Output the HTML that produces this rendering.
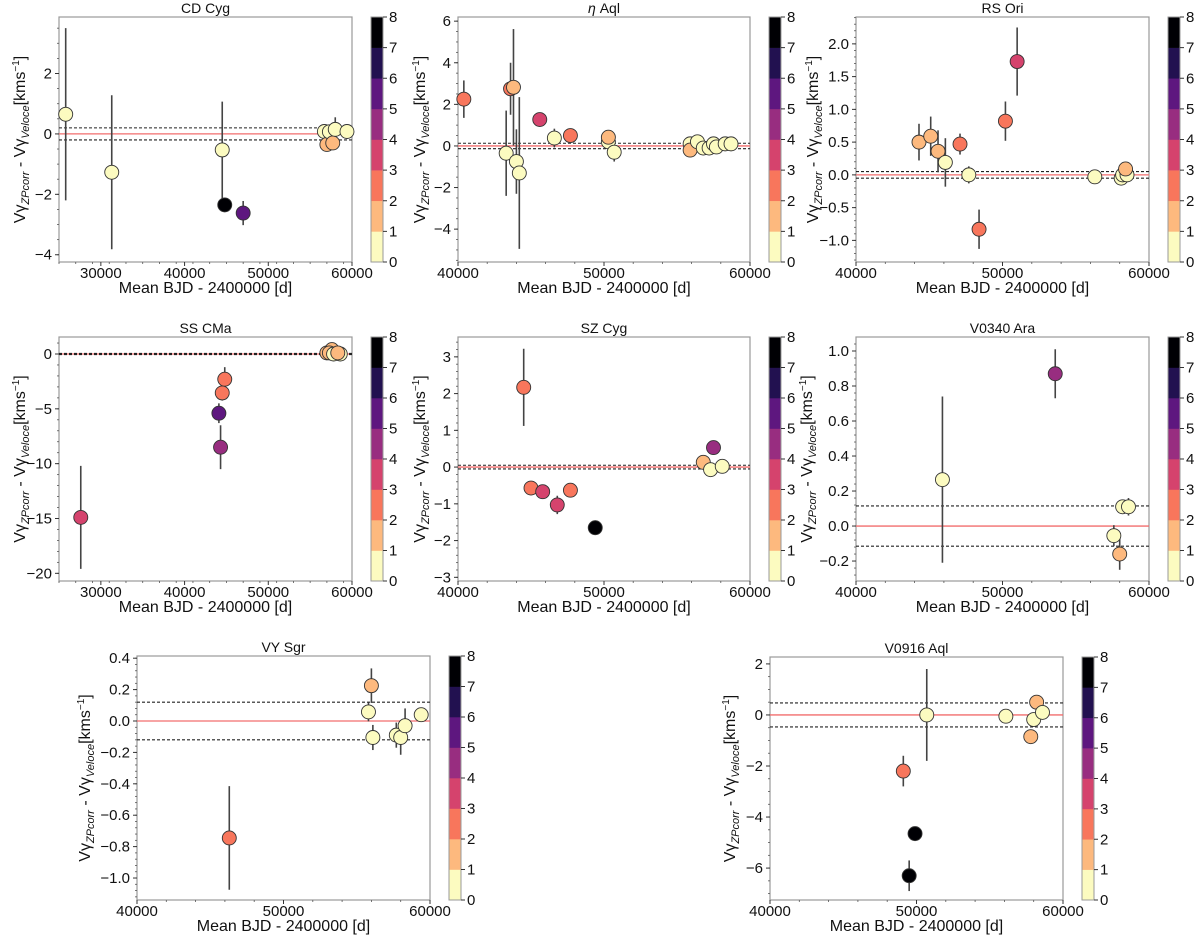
<!DOCTYPE html>
<html><head><meta charset="utf-8">
<style>
html,body{margin:0;padding:0;background:#fff;}
svg{display:block;font-family:"Liberation Sans","DejaVu Sans",sans-serif;}
</style></head>
<body>
<svg id="fig" width="1200" height="935" viewBox="0 0 1200 935" xmlns="http://www.w3.org/2000/svg"></svg>
<script>
// ---- data (x = Mean BJD - 2400000, y = difference, e = error, c = colour class) ----
const cdCygX=[25800,31300,44500,44800,47000,56700,57000,57300,57700,58000,59400];
const cdCygY=[0.65,-1.27,-0.53,-2.35,-2.62,0.08,-0.35,0.07,-0.3,0.15,0.08];
const cdCygE=[2.85,2.55,1.6,0.2,0.4,0.1,0.2,0.1,0.1,0.4,0.1];
const cdCygC=[0,0,0,7,5,0,1,0,1,0,0];

const etaAqlX=[40400,43300,43600,43800,44000,44200,45600,46600,47700,50300,50300,50700,55900,55900,56400,56800,57200,57500,57700,58300,58700];
const etaAqlY=[2.25,-0.35,2.75,2.82,-0.75,-1.3,1.27,0.38,0.5,0.2,0.42,-0.3,0.1,-0.2,0.2,-0.1,-0.1,0.1,-0.05,0.1,0.1];
const etaAqlE=[0.9,2.05,1.25,2.8,1.55,3.65,0.25,0.45,0.15,0.4,0.3,0.45,0.1,0.1,0.1,0.1,0.1,0.1,0.1,0.1,0.1];
const etaAqlC=[2,0,2,1,0,0,3,0,2,0,1,0,0,1,0,0,0,0,0,0,0];

const rsOriX=[44300,45100,45600,46100,47100,47700,48400,50200,51000,56300,58100,58200,58500,58400];
const rsOriY=[0.5,0.59,0.36,0.19,0.47,0.0,-0.83,0.82,1.73,-0.03,-0.05,0.0,0.0,0.09];
const rsOriE=[0.28,0.3,0.32,0.37,0.16,0.13,0.3,0.3,0.52,0.05,0.05,0.05,0.05,0.05];
const rsOriC=[1,1,1,0,2,0,2,2,3,0,0,0,0,1];

const ssCmaX=[27600,44100,44300,44500,44800,57000,57600,57300,57800,58600,58300];
const ssCmaY=[-14.9,-5.4,-8.5,-3.55,-2.3,0.1,0.4,0.1,0.0,0.0,0.1];
const ssCmaE=[4.7,0.9,2.0,0.7,1.1,0.2,0.2,0.2,0.2,0.2,0.1];
const ssCmaC=[3,5,4,2,2,1,1,1,0,0,1];

const szCygX=[44500,45000,45800,46800,47700,49400,56800,57300,57500,58100];
const szCygY=[2.17,-0.57,-0.67,-1.03,-0.63,-1.65,0.13,-0.07,0.53,0.02];
const szCygE=[1.05,0.15,0.18,0.25,0.18,0.2,0.1,0.1,0.1,0.1];
const szCygC=[2,2,3,3,2,7,1,0,4,0];

const v340X=[45900,53600,57600,58000,58200,58600];
const v340Y=[0.265,0.87,-0.055,-0.16,0.11,0.11];
const v340E=[0.475,0.14,0.06,0.09,0.04,0.05];
const v340C=[0,4,0,1,0,0];

const vySgrX=[46300,55800,56000,56100,57700,58000,58300,59400];
const vySgrY=[-0.745,0.058,0.225,-0.105,-0.09,-0.105,-0.03,0.04];
const vySgrE=[0.33,0.06,0.11,0.08,0.08,0.11,0.11,0.03];
const vySgrC=[2,0,1,0,0,0,0,0];

const v916X=[49100,49900,49500,50700,56100,57800,58000,58200,58600];
const v916Y=[-2.2,-4.65,-6.3,0.0,-0.05,-0.85,-0.18,0.5,0.1];
const v916E=[0.6,0.25,0.6,1.8,0.1,0.1,0.1,0.1,0.1];
const v916C=[2,7,7,0,0,1,0,1,0];

const colorbarTicks=[0,1,2,3,4,5,6,7,8];
const ticks1=[-4,-2,0,2];
const ticks2=[-4,-2,0,2,4,6];
const ticks3=[-1.0,-0.5,0.0,0.5,1.0,1.5,2.0];
const ticks4=[-20,-15,-10,-5,0];
const ticks5=[-3,-2,-1,0,1,2,3];
const ticks6=[-0.2,0.0,0.2,0.4,0.6,0.8,1.0];
const ticks7=[-1.0,-0.8,-0.6,-0.4,-0.2,0.0,0.2,0.4];
const ticks8=[-6,-4,-2,0,2];
const xTicksA=[30000,40000,50000,60000];
const xTicksB=[40000,50000,60000];

const palette=["#fcfbc0","#fdb97e","#f8765c","#d5436d","#982d80","#5e177f","#221150","#000004"];

// ---- layout ----
const panels=[
 {name:"cd-cyg",title:"CD Cyg",L:59,T:17,W:293,H:245,x0:25000,x1:60000,y0:-4.24,y1:3.87,xt:xTicksA,yt:ticks1,dec:0,band:0.2,X:cdCygX,Y:cdCygY,E:cdCygE,C:cdCygC,ylx:25,minY:0.5},
 {name:"eta-aql",title:"η Aql",L:458,T:17,W:292,H:245,x0:40000,x1:60000,y0:-5.58,y1:6.2,xt:xTicksB,yt:ticks2,dec:0,band:0.13,X:etaAqlX,Y:etaAqlY,E:etaAqlE,C:etaAqlC,ylx:425,minY:0.5,italicTitle:true},
 {name:"rs-ori",title:"RS Ori",L:856,T:17,W:293,H:245,x0:40000,x1:60000,y0:-1.33,y1:2.41,xt:xTicksB,yt:ticks3,dec:1,band:0.05,X:rsOriX,Y:rsOriY,E:rsOriE,C:rsOriC,ylx:818,minY:0.1},
 {name:"ss-cma",title:"SS CMa",L:59,T:337,W:293,H:244,x0:25000,x1:60000,y0:-20.7,y1:1.55,xt:xTicksA,yt:ticks4,dec:0,band:0.05,X:ssCmaX,Y:ssCmaY,E:ssCmaE,C:ssCmaC,ylx:25,minY:1},
 {name:"sz-cyg",title:"SZ Cyg",L:458,T:337,W:292,H:244,x0:40000,x1:60000,y0:-3.1,y1:3.54,xt:xTicksB,yt:ticks5,dec:0,band:0.05,X:szCygX,Y:szCygY,E:szCygE,C:szCygC,ylx:425,minY:0.2},
 {name:"v0340-ara",title:"V0340 Ara",L:856,T:337,W:293,H:244,x0:40000,x1:60000,y0:-0.314,y1:1.08,xt:xTicksB,yt:ticks6,dec:1,band:0.115,X:v340X,Y:v340Y,E:v340E,C:v340C,ylx:812,minY:0.04},
 {name:"vy-sgr",title:"VY Sgr",L:137,T:656,W:293,H:244,x0:40000,x1:60000,y0:-1.14,y1:0.414,xt:xTicksB,yt:ticks7,dec:1,band:0.12,X:vySgrX,Y:vySgrY,E:vySgrE,C:vySgrC,ylx:90,minY:0.04},
 {name:"v0916-aql",title:"V0916 Aql",L:770,T:657,W:293,H:243,x0:40000,x1:60000,y0:-7.25,y1:2.27,xt:xTicksB,yt:ticks8,dec:0,band:0.47,X:v916X,Y:v916Y,E:v916E,C:v916C,ylx:735,minY:0.5}
];

const NS="http://www.w3.org/2000/svg";
const svg=document.getElementById("fig");
function mk(tag,attrs,parent){const e=document.createElementNS(NS,tag);for(const k in attrs)e.setAttribute(k,attrs[k]);(parent||svg).appendChild(e);return e;}
function fmt(v,d){let s=v.toFixed(d);if(Math.abs(v)<1e-9)s=(0).toFixed(d);return s.replace("-","−");}

panels.forEach(p=>{
  const g=mk("g",{});
  
  
  const sx=v=>p.L+(v-p.x0)/(p.x1-p.x0)*p.W;
  const sy=v=>p.T+(p.y1-v)/(p.y1-p.y0)*p.H;
  const fr=mk("rect",{x:p.L,y:p.T,width:p.W,height:p.H,fill:"#fff",stroke:"#999",'stroke-width':1.2},g);
  
  
  const t=mk("text",{x:p.L+p.W/2,y:p.T-4,'text-anchor':'middle','font-size':14,fill:'#111'},g);
  
  
  if(p.italicTitle){t.innerHTML='<tspan font-style="italic">η</tspan> Aql';}else t.textContent=p.title;
  for(let v=p.x0;v<=p.x1;v+=2000){const x=sx(v);mk("line",{x1:x,x2:x,y1:p.T+p.H,y2:p.T+p.H+2,stroke:'#555','stroke-width':0.8},g);}
  p.xt.forEach(v=>{const x=sx(v);mk("line",{x1:x,x2:x,y1:p.T+p.H,y2:p.T+p.H+4,stroke:'#333','stroke-width':1},g);
    const tl=mk("text",{x:x,y:p.T+p.H+16,'text-anchor':'middle','font-size':15,fill:'#111'},g);tl.textContent=String(v);
    
    });
  for(let v=Math.ceil(p.y0/p.minY)*p.minY;v<=p.y1;v+=p.minY){const y=sy(v);mk("line",{x1:p.L-2,x2:p.L,y1:y,y2:y,stroke:'#555','stroke-width':0.8},g);}
  p.yt.forEach(v=>{const y=sy(v);mk("line",{x1:p.L-4,x2:p.L,y1:y,y2:y,stroke:'#333','stroke-width':1},g);
    const tl=mk("text",{x:p.L-7,y:y+5,'text-anchor':'end','font-size':15,fill:'#111'},g);tl.textContent=fmt(v,p.dec);
    
    });
  const xl=mk("text",{x:p.L+p.W/2,y:p.T+p.H+31,'text-anchor':'middle','font-size':16,fill:'#111'},g);
  xl.textContent="Mean BJD - 2400000 [d]";
  
  
  const yl=mk("text",{transform:`translate(${p.ylx},${p.T+p.H/2}) rotate(-90)`,'text-anchor':'middle','font-size':16,fill:'#111'},g);
  yl.innerHTML='Vγ<tspan font-size="11" font-style="italic" dy="4">ZPcorr</tspan><tspan dy="-4"> - Vγ</tspan><tspan font-size="11" font-style="italic" dy="4">Veloce</tspan><tspan dy="-4">[kms</tspan><tspan font-size="10" dy="-6">−1</tspan><tspan dy="6">]</tspan>';
  
  
  const z=sy(0);
  const rl=mk("line",{x1:p.L,x2:p.L+p.W,y1:z,y2:z,stroke:'#f26d6d','stroke-width':1.3},g);
  
  
  [p.band,-p.band].forEach(b=>{const l=mk("line",{x1:p.L,x2:p.L+p.W,y1:sy(b),y2:sy(b),stroke:'#222','stroke-width':1.1,'stroke-dasharray':'3,2'},g);
    
    });
  for(let i=0;i<p.X.length;i++){
    const x=sx(p.X[i]);
    const eb=mk("line",{x1:x,x2:x,y1:sy(p.Y[i]+p.E[i]),y2:sy(p.Y[i]-p.E[i]),stroke:'#444','stroke-width':1.6},g);
    
    
  }
  for(let i=0;i<p.X.length;i++){
    const c=mk("circle",{cx:sx(p.X[i]),cy:sy(p.Y[i]),r:7,fill:palette[p.C[i]],stroke:'#333','stroke-width':0.9},g);
    
    
  }
  const cbx=p.L+p.W+19, cbw=12;
  const cg=mk("g",{},g);
  
  
  const bh=p.H/8;
  for(let k=0;k<8;k++){mk("rect",{x:cbx,y:p.T+p.H-(k+1)*bh,width:cbw,height:bh+0.3,fill:palette[k]},cg);}
  mk("rect",{x:cbx,y:p.T,width:cbw,height:p.H,fill:'none',stroke:'#999','stroke-width':1},cg);
  colorbarTicks.forEach(v=>{const y=p.T+p.H-v*bh;
    mk("line",{x1:cbx+cbw,x2:cbx+cbw+4,y1:y,y2:y,stroke:'#333','stroke-width':1},cg);
    const tl=mk("text",{x:cbx+cbw+6,y:y+5,'font-size':15,fill:'#111'},cg);tl.textContent=String(v);
    
    });
});
</script>
</body></html>
